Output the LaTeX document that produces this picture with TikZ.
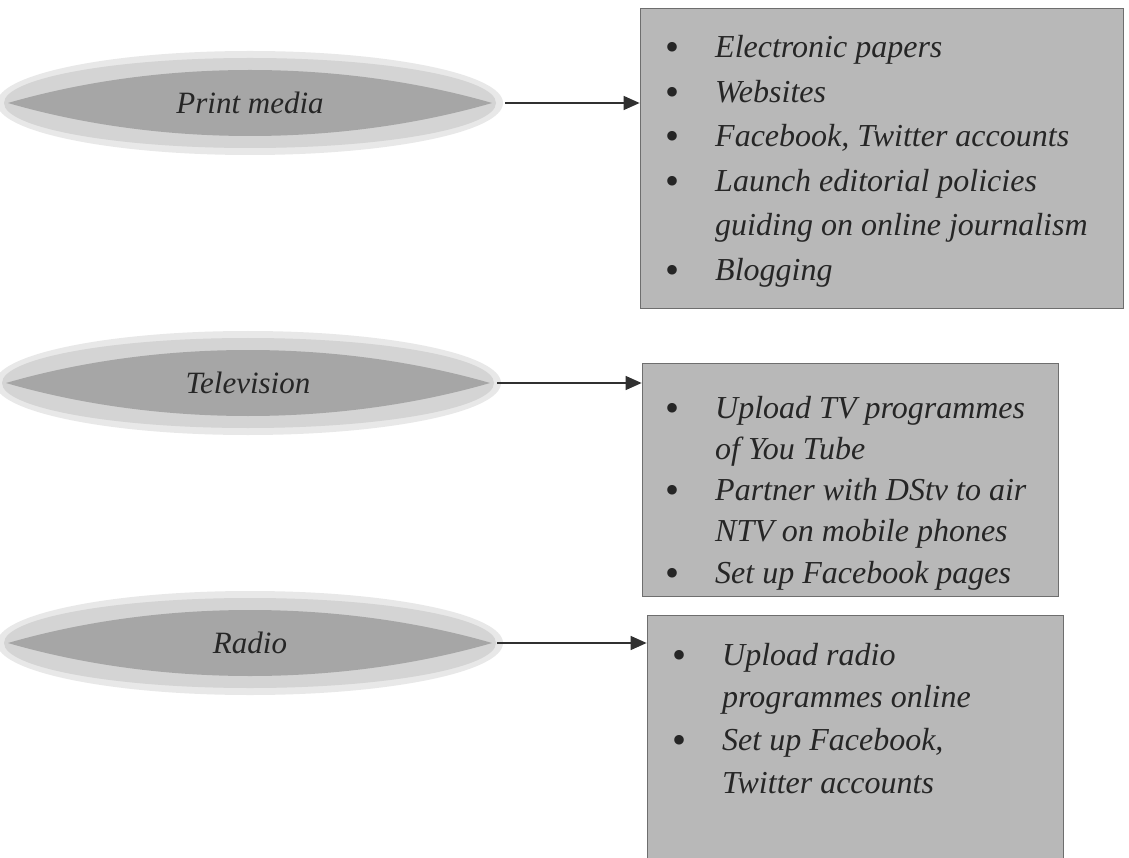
\documentclass[tikz,border=0pt]{standalone}
\usepackage{fontspec}
\setmainfont{Liberation Serif}
\usetikzlibrary{arrows.meta,shapes.geometric,backgrounds}
\definecolor{lensgray}{HTML}{A6A6A6}
\definecolor{halogray}{HTML}{D4D4D4}
\definecolor{halotwo}{HTML}{E8E8E8}
\definecolor{boxgray}{HTML}{B8B8B8}
\definecolor{boxline}{HTML}{6E6E6E}
\definecolor{inkgray}{HTML}{262626}
\definecolor{arrowgray}{HTML}{303030}
\newcommand\bul{\llap{\raisebox{-3pt}{\fontsize{40}{40}\selectfont\textup{\textbullet}}\hspace{36pt}}}
\newcommand\mylens[2]{%
  \fill[halotwo] (#1,#2) ellipse [x radius=253, y radius=52];
  \fill[halogray] (#1,#2) ellipse [x radius=246, y radius=45];
  \fill[lensgray] (#1-242,#2) .. controls (#1-90,#2-44) and (#1+90,#2-44) .. (#1+242,#2)
     .. controls (#1+90,#2+44) and (#1-90,#2+44) .. (#1-242,#2) -- cycle;}
\begin{document}
\begin{tikzpicture}[x=1pt,y=-1pt,
  lensnode/.style={ellipse, minimum width=484pt, minimum height=66pt, inner sep=0pt,
    text=inkgray, font=\fontsize{31}{36}\selectfont\itshape},
  boxnode/.style={rectangle, fill=boxgray, draw=boxline, line width=0.8pt, inner sep=0pt},
  listtext/.style={inner sep=0pt, anchor=base west, text=inkgray},
  arr/.style={draw=arrowgray, line width=1.4pt, -{Triangle[length=16pt,width=14pt]}}]
\fill[white] (0,0) rectangle (1129,858);
\useasboundingbox (0,0) rectangle (1129,858);

% lens shapes
\mylens{250}{103}
\mylens{248}{383}
\mylens{250}{643}

\node[lensnode] (pm) at (250,103) {Print media};
\node[lensnode] (tv) at (248,383) {Television};
\node[lensnode] (ra) at (250,643) {Radio};

% boxes
\node[boxnode, minimum width=483pt, minimum height=300pt] (b1) at (881.5,158) {};
\node[boxnode, minimum width=416pt, minimum height=233pt] (b2) at (850,479.5) {};
\node[boxnode, minimum width=416pt, minimum height=250pt] (b3) at (855,740) {};

\node[listtext, font=\fontsize{32}{44.5}\selectfont\itshape] (l1) at (715,58) {%
  \begin{tabular}[t]{@{}l@{}}
  \bul Electronic papers\\
  \bul Websites\\
  \bul Facebook, Twitter accounts\\
  \bul Launch editorial policies\\
  guiding on online journalism\\
  \bul Blogging
  \end{tabular}};
\node[listtext, font=\fontsize{32}{41.3}\selectfont\itshape] (l2) at (715,418) {%
  \begin{tabular}[t]{@{}l@{}}
  \bul Upload TV programmes\\
  of You Tube\\
  \bul Partner with DStv to air\\
  NTV on mobile phones\\
  \bul Set up Facebook pages
  \end{tabular}};
\node[listtext, font=\fontsize{32}{42.7}\selectfont\itshape] (l3) at (722,665) {%
  \begin{tabular}[t]{@{}l@{}}
  \bul Upload radio\\
  programmes online\\
  \bul Set up Facebook,\\
  Twitter accounts
  \end{tabular}};

% connectors
\draw[arr] ([xshift=13pt]pm.east) -- (pm.east -| b1.west);
\draw[arr] ([xshift=7pt]tv.east) -- (tv.east -| b2.west);
\draw[arr] ([xshift=5pt]ra.east) -- (ra.east -| b3.west);
\end{tikzpicture}
\end{document}
